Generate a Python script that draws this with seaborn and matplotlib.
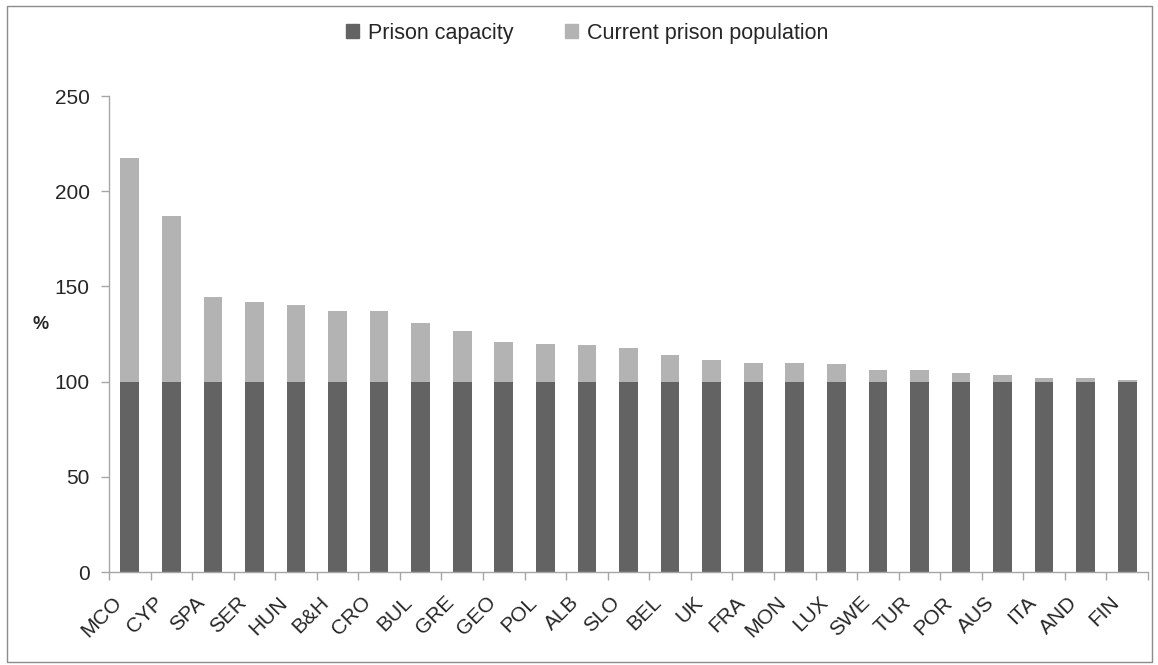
import matplotlib
matplotlib.use("Agg")
import matplotlib.pyplot as plt
import matplotlib.patches as mpatches
import matplotlib.transforms as mtransforms
import seaborn as sns
import numpy as np
import pandas as pd

sns.set_theme(style="white")
plt.rcParams['font.family'] = ['Liberation Sans', 'DejaVu Sans']

# data
countries = ['MCO', 'CYP', 'SPA', 'SER', 'HUN', 'B&H', 'CRO', 'BUL', 'GRE', 'GEO',
             'POL', 'ALB', 'SLO', 'BEL', 'UK', 'FRA', 'MON', 'LUX', 'SWE', 'TUR',
             'POR', 'AUS', 'ITA', 'AND', 'FIN']
population = [217.6, 186.8, 144.6, 142, 140, 137, 137, 131, 126.5, 121,
              120, 119, 117.5, 114, 111.5, 110, 110, 109, 106, 106,
              104.7, 103.7, 102, 102, 101]
capacity = [100] * len(countries)
yticks = [0, 50, 100, 150, 200, 250]

DARK = '#636363'
LIGHT = '#b3b3b3'
AXIS_GREY = '#a6a6a6'

df = pd.DataFrame({'country': countries, 'population': population, 'capacity': capacity})

fig = plt.figure(figsize=(11.58, 6.65), dpi=100)
ax = fig.add_axes([0.0941, 0.1398, 0.8973, 0.7158])

# total first (light), capacity drawn over it (dark) -> stacked look
sns.barplot(data=df, x='country', y='population', color=LIGHT, saturation=1,
            width=0.45, linewidth=0, ax=ax)
sns.barplot(data=df, x='country', y='capacity', color=DARK, saturation=1,
            width=0.45, linewidth=0, ax=ax)

ax.set_xlim(-0.5, len(countries) - 0.5)
ax.set_ylim(0, 250)
ax.set_yticks(yticks)
ax.set_yticklabels([str(t) for t in yticks], fontsize=15)
ax.set_xlabel('')
ax.set_ylabel('%', rotation=0, fontsize=13, fontweight='bold', va='center', ha='center')
ax.yaxis.set_label_coords(-0.066, 0.521)

# category labels: rotated, no major ticks; ticks drawn between categories
ax.set_xticks(range(len(countries)))
ax.set_xticklabels(countries, rotation=45, ha='right', va='top',
                   rotation_mode='anchor', fontsize=15)
ax.set_xticks(np.arange(-0.5, len(countries), 1), minor=True)
ax.tick_params(axis='x', which='major', bottom=True, length=0, pad=15)
ax.tick_params(axis='x', which='minor', bottom=True, length=6, color=AXIS_GREY,
               width=1, direction='out')
ax.tick_params(axis='y', left=True, length=6, color=AXIS_GREY, width=1,
               direction='out', pad=8)

shift = mtransforms.ScaledTranslation(-0.18, 0, fig.dpi_scale_trans)
for lbl in ax.get_xticklabels():
    lbl.set_transform(lbl.get_transform() + shift)

for side in ['top', 'right']:
    ax.spines[side].set_visible(False)
for side in ['left', 'bottom']:
    ax.spines[side].set_color(AXIS_GREY)
    ax.spines[side].set_linewidth(1)
ax.grid(False)

handles = [mpatches.Patch(color=DARK, label='Prison capacity'),
           mpatches.Patch(color=LIGHT, label='Current prison population')]
fig.legend(handles=handles, loc='center', bbox_to_anchor=(0.507, 0.95), ncol=2,
           frameon=False, fontsize=15.5, handlelength=0.6, handleheight=0.6,
           handletextpad=0.4, columnspacing=2.4)

# chart border
fig.patches.append(mpatches.Rectangle((0.006, 0.0045), 0.9888, 0.9865,
                                      transform=fig.transFigure, fill=False,
                                      edgecolor='#8c8c8c', linewidth=1))

plt.savefig('out.png', dpi=100)
plt.close()
